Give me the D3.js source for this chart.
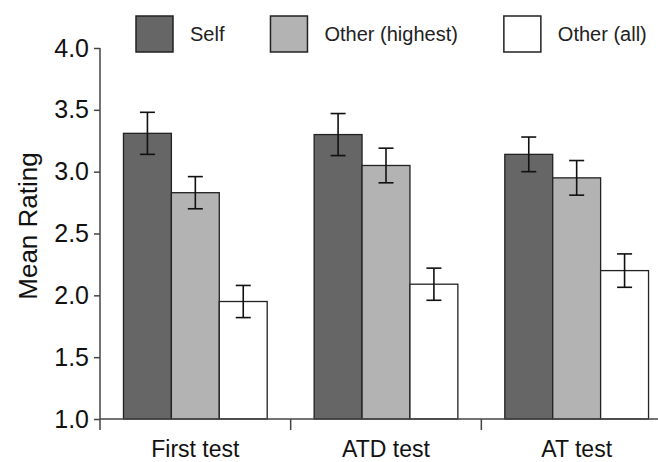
<!DOCTYPE html>
<html>
<head>
<meta charset="utf-8">
<script src="https://cdn.jsdelivr.net/npm/d3@7"></script>
<style>
  body { margin: 0; background: #fff; }
  svg { display: block; font-family: "Liberation Sans", Arial, sans-serif; }
</style>
</head>
<body>
<div id="chart"></div>
<script>
// data
const tests = ['First test', 'ATD test', 'AT test'];
const groups = ['Self', 'Other (highest)', 'Other (all)'];
const selfMeans = [3.31, 3.30, 3.14];
const highestMeans = [2.83, 3.05, 2.95];
const allMeans = [1.95, 2.09, 2.20];
const selfErr = [0.17, 0.17, 0.14];
const highestErr = [0.13, 0.14, 0.14];
const allErr = [0.13, 0.13, 0.135];
const yTicks = [1.0, 1.5, 2.0, 2.5, 3.0, 3.5, 4.0];

const colors = ['#666666', '#b3b3b3', '#ffffff'];
const means = [selfMeans, highestMeans, allMeans];
const errs = [selfErr, highestErr, allErr];

const rows = [];
tests.forEach((t, i) => {
    groups.forEach((g, j) => {
        rows.push({ test: t, group: g, mean: means[j][i], err: errs[j][i], gi: j });
    });
});

const svgWidth = 658;
const svgHeight = 462;
const axisColor = '#444';

const svg = d3.select('#chart')
    .append('svg')
    .attr('width', svgWidth)
    .attr('height', svgHeight);

const x0 = d3.scaleBand()
    .domain(tests)
    .range([100, 672])
    .paddingInner(0)
    .paddingOuter(0);

const x1 = d3.scaleBand()
    .domain(groups)
    .range([0, x0.bandwidth()])
    .paddingInner(0)
    .paddingOuter(0.49);

const y = d3.scaleLinear()
    .domain([1, 4])
    .range([419, 48]);

// bars
svg.append('g')
    .selectAll('rect')
    .data(rows)
    .enter()
    .append('rect')
    .attr('x', d => x0(d.test) + x1(d.group))
    .attr('y', d => y(d.mean))
    .attr('width', x1.bandwidth())
    .attr('height', d => y(1) - y(d.mean))
    .attr('fill', d => colors[d.gi])
    .attr('stroke', '#222')
    .attr('stroke-width', 1.3);

// error bars
const capW = 15;
const eb = svg.append('g')
    .attr('stroke', '#111')
    .attr('stroke-width', 1.6)
    .selectAll('g')
    .data(rows)
    .enter()
    .append('g')
    .attr('transform', d => `translate(${x0(d.test) + x1(d.group) + x1.bandwidth() / 2},0)`);

eb.append('line')
    .attr('y1', d => y(d.mean + d.err))
    .attr('y2', d => y(d.mean - d.err));
eb.append('line')
    .attr('x1', -capW / 2).attr('x2', capW / 2)
    .attr('y1', d => y(d.mean + d.err))
    .attr('y2', d => y(d.mean + d.err));
eb.append('line')
    .attr('x1', -capW / 2).attr('x2', capW / 2)
    .attr('y1', d => y(d.mean - d.err))
    .attr('y2', d => y(d.mean - d.err));

// y axis
const yAxis = svg.append('g')
    .attr('transform', 'translate(100,0)')
    .call(d3.axisLeft(y).tickValues(yTicks).tickFormat(d3.format('.1f')).tickSize(6).tickSizeOuter(0));
yAxis.select('.domain').remove();
yAxis.selectAll('.tick line').attr('stroke', axisColor).attr('stroke-width', 1.5);
yAxis.selectAll('.tick text')
    .attr('x', -11)
    .attr('fill', '#111')
    .style('font-size', '25px')
    .style('font-family', '"Liberation Sans", Arial, sans-serif');
yAxis.append('line')
    .attr('y1', y(4)).attr('y2', y(1) + 11)
    .attr('stroke', axisColor).attr('stroke-width', 1.5);

// x axis
const xAxis = svg.append('g')
    .attr('transform', `translate(0,${y(1)})`);
xAxis.append('line')
    .attr('x1', 100).attr('x2', svgWidth)
    .attr('stroke', axisColor).attr('stroke-width', 1.5);
xAxis.selectAll('line.sep')
    .data(tests.slice(1))
    .enter()
    .append('line')
    .attr('class', 'sep')
    .attr('x1', d => x0(d)).attr('x2', d => x0(d))
    .attr('y1', 0).attr('y2', 11)
    .attr('stroke', axisColor).attr('stroke-width', 1.5);
xAxis.selectAll('text')
    .data(tests)
    .enter()
    .append('text')
    .attr('x', d => x0(d) + x0.bandwidth() / 2)
    .attr('y', 38)
    .attr('text-anchor', 'middle')
    .attr('fill', '#111')
    .style('font-size', '23px')
    .text(d => d);

// y title
svg.append('text')
    .attr('transform', 'translate(37,226) rotate(-90)')
    .attr('text-anchor', 'middle')
    .attr('fill', '#111')
    .style('font-size', '26px')
    .text('Mean Rating');

// legend
const legend = svg.append('g');
let lx = 136;
groups.forEach((g, i) => {
    legend.append('rect')
        .attr('x', lx).attr('y', 16)
        .attr('width', 37).attr('height', 36)
        .attr('fill', colors[i])
        .attr('stroke', '#222')
        .attr('stroke-width', 1.5);
    const t = legend.append('text')
        .attr('x', lx + 37 + 17)
        .attr('y', 41)
        .attr('fill', '#222')
        .style('font-size', '20px')
        .text(g);
    lx += 37 + 17 + t.node().getComputedTextLength() + 46;
});
</script>
</body>
</html>
